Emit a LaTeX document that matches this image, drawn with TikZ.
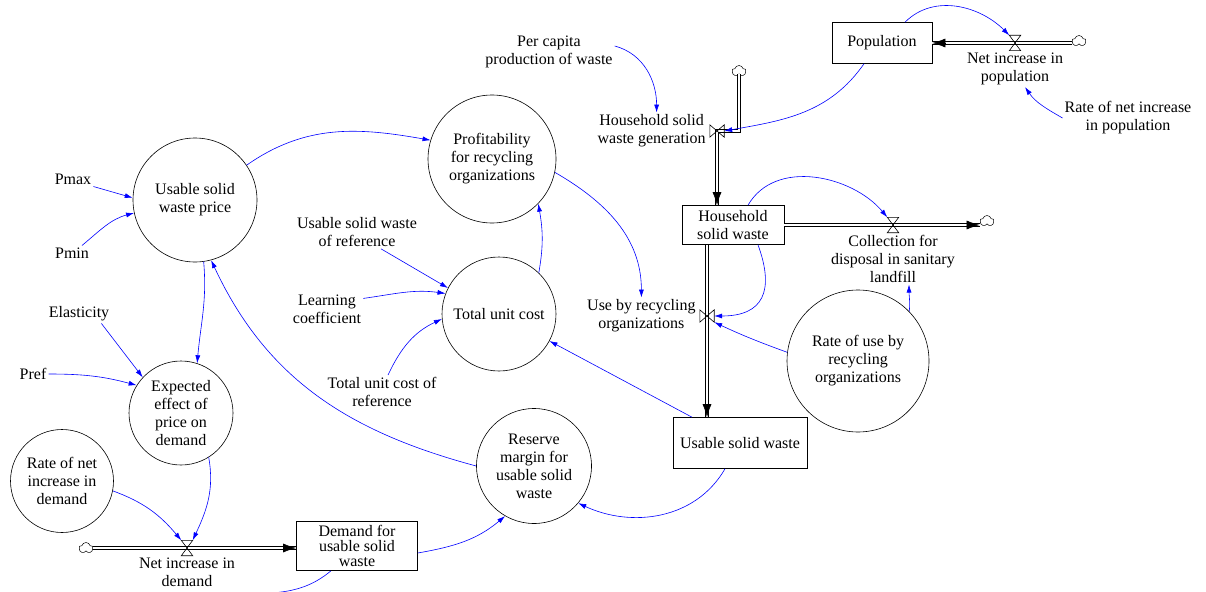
\documentclass[tikz,border=0pt]{standalone}
\usepackage{fontspec}
\setmainfont{Liberation Serif}
\usetikzlibrary{positioning,calc,arrows.meta,shapes.symbols}

\newcommand{\valvehour}[1]{\draw[valveline] (#1.south west) -- (#1.south east) -- (#1.north west) -- (#1.north east) -- cycle;}
\newcommand{\valvebow}[1]{\draw[valveline] (#1.south west) -- (#1.north west) -- (#1.south east) -- (#1.north east) -- cycle;}

\tikzset{
  stock/.style={draw, rectangle, line width=0.6pt, inner sep=0pt, align=center},
  aux/.style={draw, circle, line width=0.6pt, inner sep=0pt, align=center},
  txt/.style={align=center, inner sep=2pt},
  valveh/.style={inner sep=0pt, minimum width=11pt, minimum height=15pt},
  valvev/.style={inner sep=0pt, minimum width=14pt, minimum height=12pt},
  valveline/.style={line width=0.6pt},
  pipe/.style={double, double distance=2.2pt, line width=0.7pt},
  pipetip/.style={-{Latex[length=13pt,width=9pt]}, line width=0.6pt},
  link/.style={blue, line width=0.6pt, -{Latex[length=8pt,width=5pt]}},
  cloudy/.style={cloud, draw, cloud puffs=5, aspect=1.3, minimum width=14pt, minimum height=11pt, inner sep=0pt, line width=0.5pt}
}

\begin{document}
\begin{tikzpicture}[x=1pt,y=1pt,font=\fontsize{16}{18}\selectfont]
\useasboundingbox (0,0) rectangle (1206,-591);
% stocks
\node[stock, minimum width=100pt, minimum height=41pt] (pop) at (882,-43) {Population};
\node[stock, minimum width=102pt, minimum height=39pt] (hsw) at (733,-225) {Household\\solid waste};
\node[stock, minimum width=134pt, minimum height=51pt] (usw) at (740,-443) {Usable solid waste};
\node[stock, minimum width=121pt, minimum height=49pt, font=\fontsize{16}{15}\selectfont] (dem) at (357,-546) {Demand for\\usable solid\\waste};
% auxiliaries
\node[aux, minimum size=124pt] (price) at (195,-200) {Usable solid\\waste price};
\node[aux, minimum size=128pt] (prof) at (492,-159) {Profitability\\for recycling\\organizations};
\node[aux, minimum size=114pt] (tuc) at (499,-314) {Total unit cost};
\node[aux, minimum size=104pt] (eep) at (181,-413) {Expected\\effect of\\price on\\demand};
\node[aux, minimum size=103pt] (rnid) at (62,-481) {Rate of net\\increase in\\demand};
\node[aux, minimum size=115pt] (rmu) at (534,-466) {Reserve\\margin for\\usable solid\\waste};
\node[aux, minimum size=142pt] (rur) at (858,-361) {Rate of use by\\recycling\\organizations};
% constants
\node[txt] (pmax) at (73,-179) {Pmax};
\node[txt] (pmin) at (72,-253) {Pmin};
\node[txt] (elas) at (79,-314) {Elasticity};
\node[txt] (pref) at (33,-374) {Pref};
\node[txt] (uswr) at (357,-232) {Usable solid waste\\of reference};
\node[txt] (lc) at (327,-309) {Learning\\coefficient};
\node[txt] (tucr) at (382,-392) {Total unit cost of\\reference};
\node[txt] (pcpw) at (549,-52) {Per capita\\production of waste};
\node[txt] (rnip) at (1128,-118) {Rate of net increase\\in population};
% valves
\node[valveh] (nip) at (1015,-43) {};
\node[valvev] (gen) at (717,-131) {};
\node[valveh] (cfd) at (893,-225) {};
\node[valvev] (ubr) at (707,-316) {};
\node[valveh] (nid) at (187,-548) {};
\node[txt, below=0pt of nip] (nipl) {Net increase in\\population};
\node[txt, left=2pt of gen] (genl) {Household solid\\waste generation};
\node[txt, below=0pt of cfd] (cfdl) {Collection for\\disposal in sanitary\\landfill};
\node[txt, left=2pt of ubr] (ubrl) {Use by recycling\\organizations};
\node[txt, below=0pt of nid] (nidl) {Net increase in\\demand};
% clouds
\node[cloudy] (c1) at (1079,-41) {};
\node[cloudy] (c2) at (739,-71) {};
\node[cloudy] (c3) at (987,-221) {};
\node[cloudy] (c4) at (86,-548) {};
% pipes
\coordinate (popin) at (nip -| pop.east);
\draw[pipe] (c1.west |- nip) -- (popin);
\draw[pipetip] ($(popin)!13pt!(nip)$) -- (popin);
\coordinate (hswin) at (gen |- hsw.north);
\draw[pipe] (c2.south) -- (c2.south |- gen) -- (gen.center) -- (hswin);
\draw[pipetip] ($(hswin)!13pt!(gen)$) -- (hswin);
\coordinate (c3in) at (cfd -| c3.west);
\draw[pipe] (cfd -| hsw.east) -- (c3in);
\draw[pipetip] ($(c3in)!13pt!(cfd)$) -- (c3in);
\coordinate (uswin) at (ubr |- usw.north);
\draw[pipe] (ubr |- hsw.south) -- (uswin);
\draw[pipetip] ($(uswin)!13pt!(ubr)$) -- (uswin);
\coordinate (demin) at (nid -| dem.west);
\draw[pipe] (nid -| c4.east) -- (demin);
\draw[pipetip] ($(demin)!13pt!(nid)$) -- (demin);
\valvehour{nip} \valvehour{cfd} \valvehour{nid}
\valvebow{gen} \valvebow{ubr}
% links
\draw[link] ([xshift=-18pt]pop.south) to[out=235,in=10] (gen.east);
\draw[link] ([xshift=23pt]pop.north) to[out=45,in=135] (nip.north west);
\draw[link] (rnip.west) to[out=150,in=-55] ([xshift=10pt]nipl.south);
\draw[link] ([yshift=6pt]pcpw.east) to[out=-15,in=90] ([xshift=5pt]genl.north);
\draw[link] ([xshift=15pt]hsw.north) to[out=60,in=130] (cfd.north west);
\draw[link] ([xshift=25pt]hsw.south) to[out=-70,in=0,looseness=1.5] (ubr.east);
\draw[link] (rur.173) to[out=160,in=-25] (ubr.south east);
\draw[link] (rur.44) to[out=85,in=-90] ([xshift=16pt]cfdl.south);
\draw[link] ([xshift=-48pt]usw.north) -- (tuc);
\draw[link] ([xshift=-15pt]usw.south) to[out=-120,in=-25] (rmu.-40);
\draw[link] (tuc.46) to[out=80,in=-80] (prof.-44);
\draw[link] (prof.-12) to[out=-30,in=90] (ubrl.north);
\draw[link] (price.34) to[out=35,in=170] (prof.163);
\draw[link] (pmax.south east) -- (price.178);
\draw[link] ([xshift=10pt]pmin.north) to[out=40,in=195] (price.192);
\draw[link] (price.-82) to[out=-85,in=85] (eep.72);
\draw[link] (rmu.180) to[out=165,in=-65] (price.-75);
\draw[link] ([xshift=-10pt]elas.south east) -- (eep.137);
\draw[link] (pref.east) to[out=0,in=165] (eep.148);
\draw[link] (eep.-58) to[out=-80,in=65] (nid.north east);
\draw[link] (rnid.-11) to[out=-20,in=130] (nid.north west);
\draw[link] ([yshift=-7pt]dem.east) to[out=10,in=220] (rmu.240);
\draw[link] ([xshift=24pt]uswr.south) -- (tuc.153);
\draw[link] ([yshift=-6pt]lc.north east) to[out=8,in=172] (tuc.159);
\draw[link] ([xshift=6pt]tucr.north) to[out=65,in=205] (tuc.185);
\coordinate (off) at (215,-598);
\draw[link] ([xshift=-26pt]dem.south) to[out=-140,in=10] (off);
\end{tikzpicture}
\end{document}
